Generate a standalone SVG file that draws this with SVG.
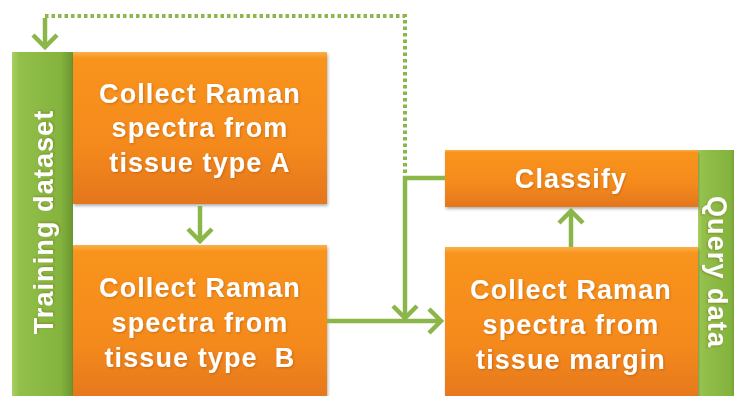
<svg xmlns="http://www.w3.org/2000/svg" width="734" height="396" viewBox="0 0 734 396">
<defs>
<linearGradient id="og" x1="0" y1="0" x2="0" y2="1">
<stop offset="0" stop-color="#fbb04a"/>
<stop offset="0.04" stop-color="#f8941f"/>
<stop offset="0.6" stop-color="#f58a1f"/>
<stop offset="1" stop-color="#e4761a"/>
</linearGradient>
<linearGradient id="gg" x1="0" y1="0" x2="1" y2="0">
<stop offset="0" stop-color="#a8d060"/>
<stop offset="0.12" stop-color="#92c04a"/>
<stop offset="0.8" stop-color="#84b33e"/>
<stop offset="1" stop-color="#6a9530"/>
</linearGradient>
<marker id="ah" markerUnits="userSpaceOnUse" markerWidth="20" markerHeight="32" viewBox="-16 -16 20 32" refX="0" refY="0" orient="auto">
<path d="M-12,-12 L0,0 L-12,12" fill="none" stroke="#8ab64a" stroke-width="4.5" stroke-linejoin="miter"/>
</marker>
<filter id="sh" x="-5%" y="-5%" width="110%" height="115%">
<feDropShadow dx="1" dy="2" stdDeviation="1.5" flood-color="#000" flood-opacity="0.3"/>
</filter>
<filter id="ts" x="-5%" y="-20%" width="110%" height="140%">
<feDropShadow dx="1" dy="1" stdDeviation="1" flood-color="#7a3a00" flood-opacity="0.35"/>
</filter>
</defs>
<style>
.box{fill:url(#og);filter:url(#sh)}
.bar{fill:url(#gg)}
.t{font-family:"Liberation Sans",Arial,sans-serif;font-weight:bold;font-size:27px;fill:#fff;text-anchor:middle;letter-spacing:1.1px;filter:url(#ts)}
.c{fill:none;stroke:#8ab64a;stroke-width:4.5}
.d{fill:none;stroke:#8ab64a;stroke-width:4;stroke-dasharray:3.5 3}
</style>
<rect width="734" height="396" fill="#fff"/>
<g id="training">
<rect class="bar" x="12" y="52" width="61" height="350"/>
<text class="t" transform="translate(53,222) rotate(-90)">Training dataset</text>
</g>
<g id="collectA">
<rect class="box" x="73" y="52" width="254" height="152"/>
<text class="t" x="200" y="103">Collect Raman</text>
<text class="t" x="200" y="137">spectra from</text>
<text class="t" x="200" y="172">tissue type A</text>
</g>
<g id="collectB">
<rect class="box" x="73" y="245" width="254" height="160"/>
<text class="t" x="200" y="297">Collect Raman</text>
<text class="t" x="200" y="332">spectra from</text>
<text class="t" x="200" y="367" xml:space="preserve">tissue type  B</text>
</g>
<g id="query">
<rect class="bar" x="698" y="150" width="40" height="250"/>
<text class="t" transform="translate(708,272) rotate(90)">Query data</text>
</g>
<g id="classify">
<rect class="box" x="445" y="150" width="253" height="57"/>
<text class="t" x="571" y="188">Classify</text>
</g>
<g id="margin">
<rect class="box" x="445" y="247" width="253" height="158"/>
<text class="t" x="571" y="299">Collect Raman</text>
<text class="t" x="571" y="334">spectra from</text>
<text class="t" x="571" y="369">tissue margin</text>
</g>
<g id="connectors">
<path class="d" d="M45,16 H405 V174"/>
<path class="c" d="M45,18 V47" marker-end="url(#ah)"/>
<path class="c" d="M200,206 V241" marker-end="url(#ah)"/>
<path class="c" d="M445,178 H405 V318" marker-end="url(#ah)"/>
<path class="c" d="M327,321 H441" marker-end="url(#ah)"/>
<path class="c" d="M571,247 V211" marker-end="url(#ah)"/>
</g>
</svg>
